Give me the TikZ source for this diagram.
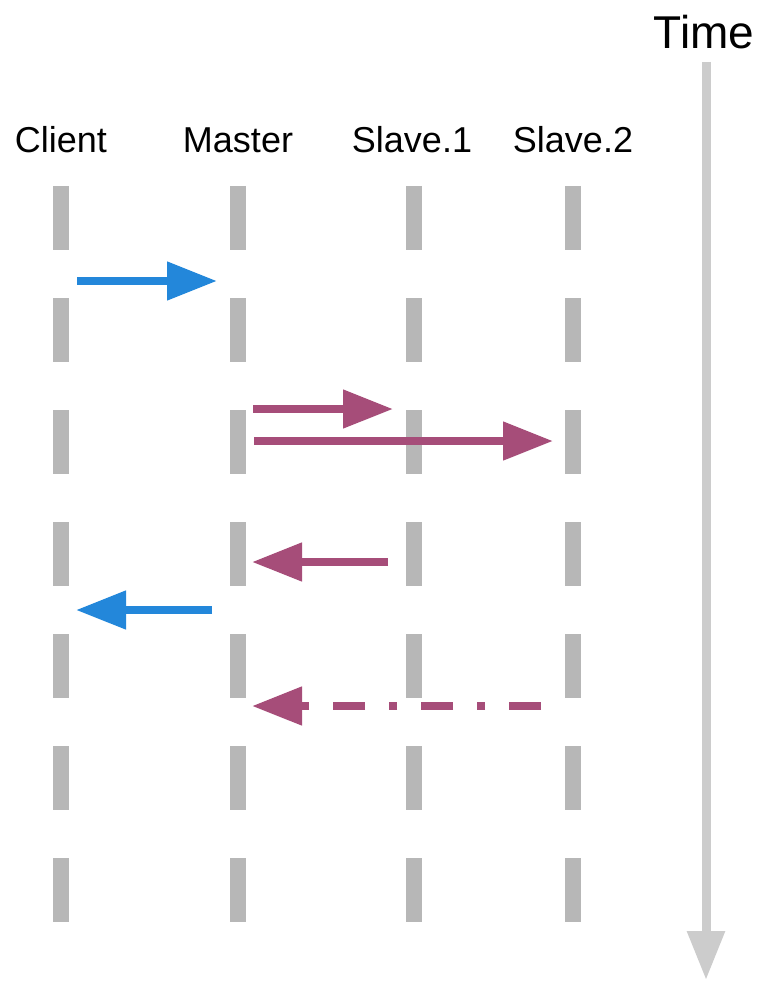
\documentclass[tikz,border=0pt]{standalone}
\usepackage{fontspec}
\setmainfont{Liberation Sans}
\usetikzlibrary{arrows.meta}
\definecolor{lifegray}{HTML}{B7B7B7}
\definecolor{timegray}{HTML}{CCCCCC}
\definecolor{msgblue}{HTML}{2387DA}
\definecolor{msgpurple}{HTML}{A64D79}
\begin{document}
\begin{tikzpicture}[x=1pt,y=-1pt,
  lbl/.style={anchor=base,inner sep=0pt,font=\fontsize{36}{40}\selectfont},
  lifeline/.style={draw=lifegray,line width=16pt,dash pattern=on 64pt off 48pt,line cap=butt},
  msg/.style={line width=8pt,line cap=butt,-{Triangle[length=50pt,width=37pt]}},
  bluemsg/.style={msg,draw=msgblue},
  purplemsg/.style={msg,draw=msgpurple},
  dashdot/.style={dash pattern=on 32pt off 24pt on 8pt off 24pt}]
\useasboundingbox (0,0) rectangle (762,981);
% labels
\node[lbl] (client) at (61,153) {Client};
\node[lbl] (master) at (238,153) {Master};
\node[lbl] (slave1) at (412,153) {Slave.1};
\node[lbl] (slave2) at (573,153) {Slave.2};
\node[anchor=base,inner sep=0pt,font=\fontsize{46}{50}\selectfont] (time) at (704,49) {Time};
% lifelines
\coordinate (c0) at (61,186);  \coordinate (c1) at (61,922);
\coordinate (m0) at (237.5,186); \coordinate (m1) at (237.5,922);
\coordinate (s0) at (413.5,186); \coordinate (s1) at (413.5,922);
\coordinate (t0) at (573,186); \coordinate (t1) at (573,922);
\draw[lifeline] (c0) -- (c1);
\draw[lifeline] (m0) -- (m1);
\draw[lifeline] (s0) -- (s1);
\draw[lifeline] (t0) -- (t1);
% time axis
\coordinate (ta) at (706,62);
\coordinate (tb) at (706,980);
\draw[draw=timegray,line width=9pt,line cap=butt,-{Triangle[length=49pt,width=36pt]}] (ta) -- (tb);
% messages
\coordinate (a1s) at (77,281);  \coordinate (a1e) at (217,281);
\coordinate (a2s) at (253,409); \coordinate (a2e) at (393,409);
\coordinate (a3s) at (254,441); \coordinate (a3e) at (553,441);
\coordinate (a4s) at (388,562); \coordinate (a4e) at (252,562);
\coordinate (a5s) at (212,610); \coordinate (a5e) at (76,610);
\coordinate (a6s) at (541,706); \coordinate (a6e) at (252,706);
\draw[bluemsg] (a1s) -- (a1e);
\draw[purplemsg] (a2s) -- (a2e);
\draw[purplemsg] (a3s) -- (a3e);
\draw[purplemsg] (a4s) -- (a4e);
\draw[bluemsg] (a5s) -- (a5e);
\draw[purplemsg,dashdot] (a6s) -- (a6e);
\end{tikzpicture}
\end{document}
